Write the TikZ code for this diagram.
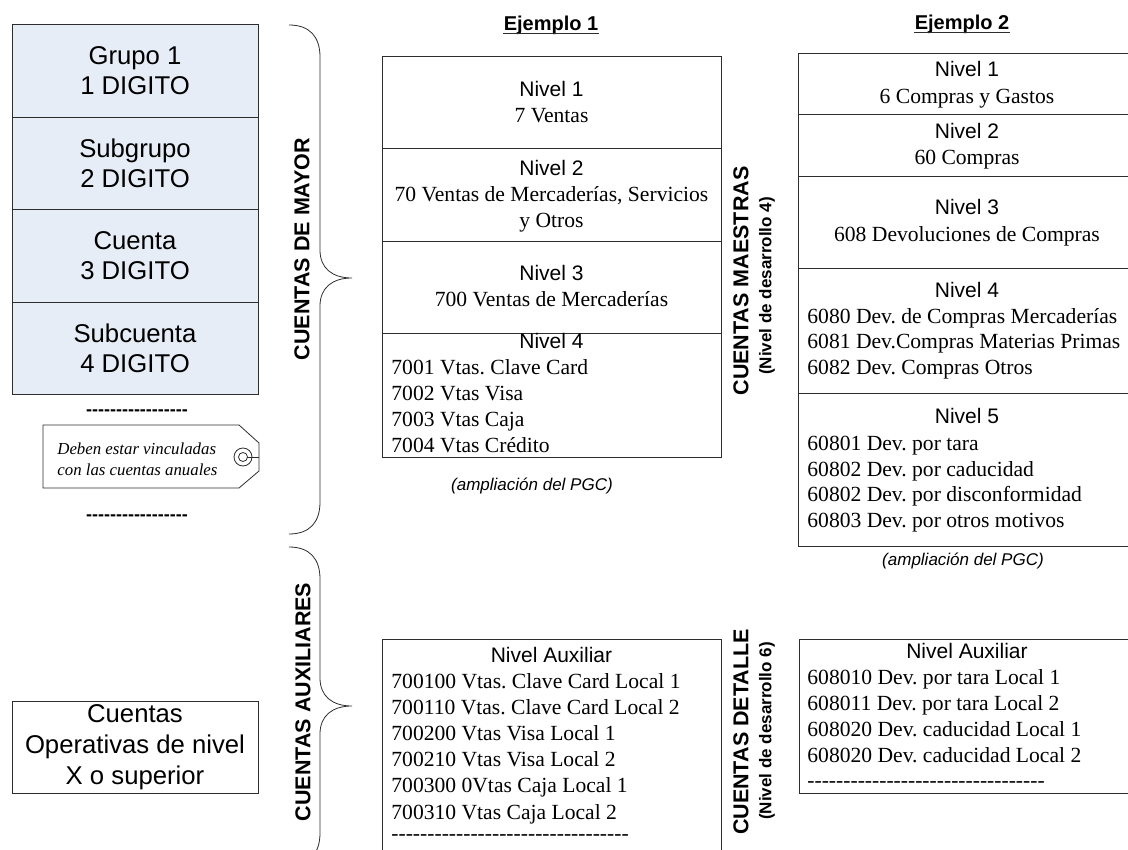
\documentclass[tikz,border=0pt]{standalone}
\usepackage{fontspec}
\setmainfont{Liberation Serif}
\setsansfont{Liberation Sans}
\usepackage{tikz}
\usepackage{xcolor}
\definecolor{azulgrupo}{RGB}{230,237,246}
\definecolor{trazo}{RGB}{45,45,45}
\newcommand\guiones[1]{\foreach \k in {1,...,#1}{\hbox{-}}}
\frenchspacing

\begin{document}
\begin{tikzpicture}[x=1pt, y=-1pt, line width=0.8pt, draw=trazo,
  celda/.style={draw=trazo, fill=azulgrupo, minimum width=246, minimum height=92.5, inner sep=0, align=center, font=\sffamily\fontsize{25.7}{30}\selectfont},
  nivel/.style={anchor=base, inner sep=0, font=\sffamily\fontsize{21}{24}\selectfont},
  cuenta/.style={anchor=base, inner sep=0, font=\fontsize{21.6}{26}\selectfont},
  lista/.style={anchor=base west, inner sep=0, font=\fontsize{21.6}{26}\selectfont},
  titulo/.style={anchor=base, inner sep=0, font=\sffamily\bfseries\fontsize{20}{24}\selectfont},
  rotulo/.style={rotate=90, inner sep=0, font=\sffamily\bfseries\fontsize{21.5}{24}\selectfont},
  subrotulo/.style={rotate=90, inner sep=0, font=\sffamily\bfseries\fontsize{17}{20}\selectfont},
  nota/.style={anchor=base, inner sep=0, font=\sffamily\itshape\fontsize{17}{20}\selectfont},
  rayas/.style={inner sep=0, font=\sffamily\bfseries\fontsize{18}{20}\selectfont}]
\useasboundingbox (0,0) rectangle (1128,850);
\clip (0,0) rectangle (1128,850);

% Columna de grupos
\node[celda] (grupo) at (135,71) {Grupo 1\\1 DIGITO};
\node[celda] (subgrupo) at (135,163.5) {Subgrupo\\2 DIGITO};
\node[celda] (cuenta) at (135,256) {Cuenta\\3 DIGITO};
\node[celda] (subcuenta) at (135,348.5) {Subcuenta\\4 DIGITO};
\node[rayas] (rayas1) at (137,413) {\guiones{17}};
\draw (43,425) -- (239,425) -- (259,443) -- (259,471) -- (239,488) -- (43,488) -- cycle;
\draw (243,457) circle (9);
\draw (243,457) circle (4.5);
\draw (247,457) -- (259,457);
\node[inner sep=0, anchor=west, align=left, font=\itshape\fontsize{16.8}{21}\selectfont] (vinculo) at (57,459) {Deben estar vinculadas\\con las cuentas anuales};
\node[rayas] (rayas2) at (137,518) {\guiones{17}};
\node[draw=trazo, minimum width=246, minimum height=92, inner sep=0, align=center, font=\sffamily\fontsize{25.7}{31}\selectfont] (operativas) at (135,747) {Cuentas\\Operativas de nivel\\X o superior};

% Llaves
\draw (289,25) .. controls (310,25) and (320,37) .. (320,57) -- (320,250) .. controls (320,268) and (332,278) .. (352,278) .. controls (332,278) and (320,288) .. (320,306) -- (320,502) .. controls (320,522) and (310,534) .. (289,534);
\draw (289,547) .. controls (310,547) and (320,559) .. (320,579) -- (320,678) .. controls (320,696) and (332,706) .. (352,706) .. controls (332,706) and (320,716) .. (320,734) -- (320,833) .. controls (320,853) and (310,865) .. (289,865);
\node[rotulo] (mayor) at (302,249) {CUENTAS DE MAYOR};
\node[rotulo] (auxiliares) at (303,702) {CUENTAS AUXILIARES};
\node[rotulo] (maestras) at (741,281) {CUENTAS MAESTRAS};
\node[subrotulo] (maestras nivel) at (767,286) {(Nivel de desarrollo 4)};
\node[rotulo] (detalle) at (741,732) {CUENTAS DETALLE};
\node[subrotulo] (detalle nivel) at (767,731) {(Nivel de desarrollo 6)};

% Ejemplo 1
\node[titulo] (ejemplo1) at (551,31) {Ejemplo 1};
\draw[line width=1.1pt] ([yshift=-2.5pt]ejemplo1.base west) -- ([yshift=-2.5pt]ejemplo1.base east);
\draw (382,56) rectangle (721,457);
\foreach \y in {148,241,333} \draw (382,\y) -- (721,\y);
\node[nivel] (e1n1) at (551.5,97) {Nivel 1};
\node[cuenta] (e1c1) at (551.5,123) {7 Ventas};
\node[nivel] (e1n2) at (551.5,176) {Nivel 2};
\node[cuenta] (e1c2a) at (551.5,202) {70 Ventas de Mercaderías, Servicios};
\node[cuenta] (e1c2b) at (551.5,228) {y Otros};
\node[nivel] (e1n3) at (551.5,281) {Nivel 3};
\node[cuenta] (e1c3) at (551.5,307) {700 Ventas de Mercaderías};
\node[nivel] (e1n4) at (551.5,349) {Nivel 4};
\foreach \t [count=\i] in {7001 Vtas. Clave Card, 7002 Vtas Visa, 7003 Vtas Caja, 7004 Vtas Crédito}
  \node[lista] (e1c4\i) at (391,349+26*\i) {\t};
\node[nota] (e1pgc) at (532,490) {(ampliación del PGC)};
\draw (382,639) rectangle (721,870);
\node[nivel] (e1aux) at (551.5,662) {Nivel Auxiliar};
\foreach \t [count=\i] in {700100 Vtas. Clave Card Local 1, 700110 Vtas. Clave Card Local 2, 700200 Vtas Visa Local 1, 700210 Vtas Visa Local 2, 700300 0Vtas Caja Local 1, 700310 Vtas Caja Local 2}
  \node[lista] (e1a\i) at (391,661.8+26.2*\i) {\t};
\node[lista] (e1rayas) at (391,840) {\guiones{33}};

% Ejemplo 2
\node[titulo] (ejemplo2) at (962,30) {Ejemplo 2};
\draw[line width=1.1pt] ([yshift=-2.5pt]ejemplo2.base west) -- ([yshift=-2.5pt]ejemplo2.base east);
\draw (798,53) rectangle (1140,546);
\foreach \y in {114,176,268,393} \draw (798,\y) -- (1140,\y);
\node[nivel] (e2n1) at (967,77) {Nivel 1};
\node[cuenta] (e2c1) at (967,104) {6 Compras y Gastos};
\node[nivel] (e2n2) at (967,139) {Nivel 2};
\node[cuenta] (e2c2) at (967,165) {60 Compras};
\node[nivel] (e2n3) at (967,215) {Nivel 3};
\node[cuenta] (e2c3) at (967,242) {608 Devoluciones de Compras};
\node[nivel] (e2n4) at (967,298) {Nivel 4};
\foreach \t [count=\i] in {6080 Dev. de Compras Mercaderías, 6081 Dev.Compras Materias Primas, 6082 Dev. Compras Otros}
  \node[lista] (e2c4\i) at (807,298+25.5*\i) {\t};
\node[nivel] (e2n5) at (967,424) {Nivel 5};
\foreach \t [count=\i] in {60801 Dev. por tara, 60802 Dev. por caducidad, 60802 Dev. por disconformidad, 60803 Dev. por otros motivos}
  \node[lista] (e2c5\i) at (807,425+25.5*\i) {\t};
\node[nota] (e2pgc) at (963,565) {(ampliación del PGC)};
\draw (799,639) rectangle (1140,793);
\node[nivel] (e2aux) at (967,658) {Nivel Auxiliar};
\foreach \t [count=\i] in {608010 Dev. por tara Local 1, 608011 Dev. por tara Local 2, 608020 Dev. caducidad Local 1, 608020 Dev. caducidad Local 2}
  \node[lista] (e2a\i) at (807,658+26*\i) {\t};
\node[lista] (e2rayas) at (807,787) {\guiones{33}};
\end{tikzpicture}
\end{document}
